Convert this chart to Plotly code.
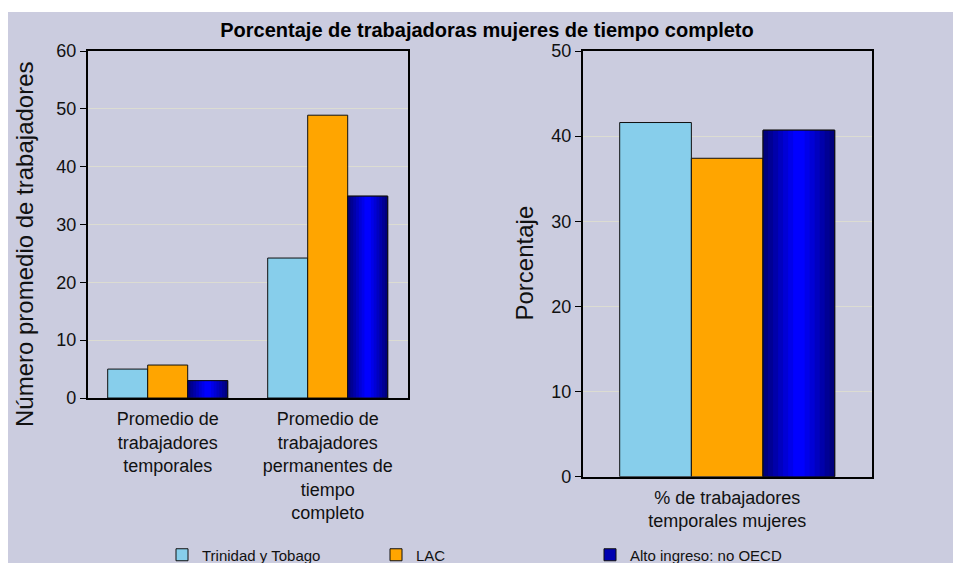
import plotly.graph_objects as go

# ---------------- data ----------------
series_names = ["Trinidad y Tobago", "LAC", "Alto ingreso: no OECD"]

left_categories = [
    "Promedio de<br>trabajadores<br>temporales",
    "Promedio de<br>trabajadores<br>permanentes de<br>tiempo<br>completo",
]
left_tt = [5.0, 24.2]
left_lac = [5.7, 48.9]
left_high = [3.0, 34.9]

right_categories = ["% de trabajadores<br>temporales mujeres"]
right_tt = [41.6]
right_lac = [37.4]
right_high = [40.7]

title_text = "Porcentaje de trabajadoras mujeres de tiempo completo"
left_ytitle = "Número promedio de trabajadores"
right_ytitle = "Porcentaje"

# ---------------- styling ----------------
# page body has an 8px margin, so the figure is 953x555 placed at (8, 8)
W, H = 953, 555
OFF = 8
BG = "#CBCCDF"
GRID = "#DCDCD2"
FONT = "Liberation Sans, Arial, sans-serif"
C_TT = "#87CEEB"
C_LAC = "#FFA500"
C_HIGH = "#0000B0"
grad_layers = [
    (1.00, "#00007E"),
    (0.86, "#000094"),
    (0.72, "#0000AA"),
    (0.58, "#0000C0"),
    (0.44, "#0000D6"),
    (0.30, "#0000EA"),
    (0.16, "#0000FF"),
]


def px_x(v):  # page pixel -> paper fraction
    return (v - OFF) / W


def px_y(v):
    return 1 - (v - OFF) / H


fig = go.Figure()


def add_panel(xa, ya, cats, vals, offsets, width, showlegend):
    cols = [C_TT, C_LAC, C_HIGH]
    for i, (name, v, col, off) in enumerate(zip(series_names, vals, cols, offsets)):
        fig.add_trace(go.Bar(
            x=cats, y=v, name=name, xaxis=xa, yaxis=ya,
            offset=off, width=width,
            marker=dict(color=col, line=dict(color="#101010", width=1)),
            showlegend=showlegend, legendgroup=name,
        ))
        if i == 2:
            center = off + width / 2
            for frac, gcol in grad_layers:
                w = width * frac
                fig.add_trace(go.Bar(
                    x=cats, y=v, xaxis=xa, yaxis=ya,
                    offset=center - w / 2, width=w,
                    marker=dict(color=gcol, line=dict(width=0)),
                    showlegend=False, legendgroup=name, hoverinfo="skip",
                ))
            fig.add_trace(go.Bar(
                x=cats, y=v, xaxis=xa, yaxis=ya,
                offset=off, width=width,
                marker=dict(color="rgba(0,0,0,0)", line=dict(color="#101010", width=1)),
                showlegend=False, legendgroup=name, hoverinfo="skip",
            ))


add_panel("x", "y", left_categories, [left_tt, left_lac, left_high],
          [-0.375, -0.125, 0.125], 0.25, True)
add_panel("x2", "y2", right_categories, [right_tt, right_lac, right_high],
          [-0.372, -0.124, 0.124], 0.248, False)

axis_font = dict(family=FONT, size=18, color="#111111")

fig.update_layout(
    width=W, height=H,
    margin=dict(l=0, r=0, t=0, b=0, autoexpand=False),
    paper_bgcolor="white",
    plot_bgcolor=BG,
    barmode="overlay",
    font=dict(family=FONT, color="#111111"),
    title=dict(text=title_text, x=px_x(487), xanchor="center",
               y=px_y(30), yanchor="middle",
               font=dict(family=FONT, size=20, color="#000000", weight="bold")),
    xaxis=dict(domain=[px_x(87.7), px_x(407.7)], range=[-0.5, 1.5],
               showline=True, mirror=True, linecolor="#000000", linewidth=1.5,
               ticks="", tickfont=axis_font, ticklabelstandoff=4,
               anchor="y", showgrid=False),
    yaxis=dict(domain=[px_y(398), px_y(51)], range=[0, 60], dtick=10,
               showline=True, mirror=True, linecolor="#000000", linewidth=1.5,
               ticks="outside", ticklen=6, tickcolor="#000000",
               tickfont=axis_font, showgrid=True, gridcolor=GRID, gridwidth=1,
               zeroline=False, anchor="x"),
    xaxis2=dict(domain=[px_x(582.7), px_x(871.7)], range=[-0.5, 0.5],
                showline=True, mirror=True, linecolor="#000000", linewidth=1.5,
                ticks="", tickfont=axis_font, ticklabelstandoff=4,
                anchor="y2", showgrid=False),
    yaxis2=dict(domain=[px_y(476.7), px_y(51)], range=[0, 50], dtick=10,
                showline=True, mirror=True, linecolor="#000000", linewidth=1.5,
                ticks="outside", ticklen=6, tickcolor="#000000",
                tickfont=axis_font, showgrid=True, gridcolor=GRID, gridwidth=1,
                zeroline=False, anchor="x2"),
    legend=dict(orientation="h", x=px_x(162), xanchor="left",
                y=px_y(555), yanchor="middle",
                entrywidth=169, entrywidthmode="pixels",
                font=dict(family=FONT, size=15, color="#111111"),
                bgcolor="rgba(0,0,0,0)", traceorder="normal"),
    shapes=[dict(type="rect", xref="paper", yref="paper",
                 x0=0, x1=1, y0=0, y1=px_y(12),
                 fillcolor=BG, line=dict(width=0), layer="below")],
    annotations=[
        dict(text=left_ytitle, xref="paper", yref="paper",
             x=px_x(24), y=px_y(244), textangle=-90, showarrow=False,
             xanchor="center", yanchor="middle",
             font=dict(family=FONT, size=24, color="#111111")),
        dict(text=right_ytitle, xref="paper", yref="paper",
             x=px_x(524), y=px_y(263.5), textangle=-90, showarrow=False,
             xanchor="center", yanchor="middle",
             font=dict(family=FONT, size=24, color="#111111")),
    ],
)

fig.write_html("out.html")
